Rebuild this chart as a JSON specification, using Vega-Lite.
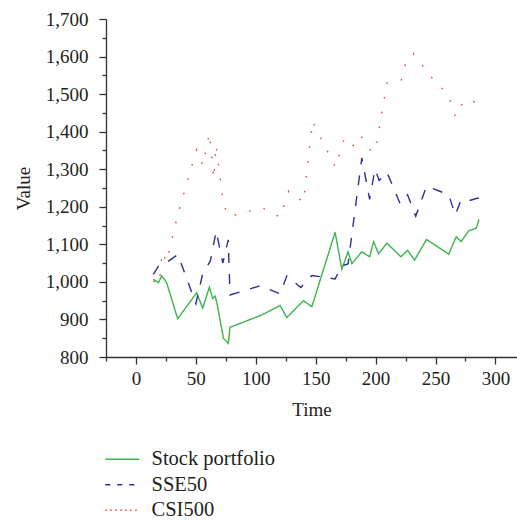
{
  "$schema": "https://vega.github.io/schema/vega-lite/v6.json",
  "autosize": "none",
  "width": 411,
  "height": 338,
  "padding": {"left": 106, "top": 19, "right": 0, "bottom": 164},
  "background": "white",
  "config": {
    "view": {"stroke": null},
    "font": "Liberation Serif",
    "axis": {"labelFont": "Liberation Serif", "titleFont": "Liberation Serif", "labelColor": "#231f20", "titleColor": "#231f20", "domainColor": "#333333", "tickColor": "#333333", "domainWidth": 1.3, "tickWidth": 1.3, "grid": false, "titleFontWeight": "normal", "labelFontSize": 19, "titleFontSize": 19}
  },
  "data": {"values": [
    {"t": 14.5, "v": 1007, "s": "Stock portfolio"},
    {"t": 18.8, "v": 998, "s": "Stock portfolio"},
    {"t": 21.5, "v": 1016, "s": "Stock portfolio"},
    {"t": 25.6, "v": 998, "s": "Stock portfolio"},
    {"t": 34.8, "v": 902, "s": "Stock portfolio"},
    {"t": 50.7, "v": 971, "s": "Stock portfolio"},
    {"t": 55.7, "v": 930, "s": "Stock portfolio"},
    {"t": 61.3, "v": 986, "s": "Stock portfolio"},
    {"t": 64, "v": 956, "s": "Stock portfolio"},
    {"t": 66, "v": 962, "s": "Stock portfolio"},
    {"t": 67.4, "v": 947, "s": "Stock portfolio"},
    {"t": 73, "v": 850, "s": "Stock portfolio"},
    {"t": 77.1, "v": 836, "s": "Stock portfolio"},
    {"t": 78.5, "v": 879, "s": "Stock portfolio"},
    {"t": 105, "v": 912, "s": "Stock portfolio"},
    {"t": 120.3, "v": 937, "s": "Stock portfolio"},
    {"t": 125.9, "v": 905, "s": "Stock portfolio"},
    {"t": 139.8, "v": 950, "s": "Stock portfolio"},
    {"t": 146.8, "v": 934, "s": "Stock portfolio"},
    {"t": 166.2, "v": 1132, "s": "Stock portfolio"},
    {"t": 171.8, "v": 1034, "s": "Stock portfolio"},
    {"t": 177, "v": 1080, "s": "Stock portfolio"},
    {"t": 180.2, "v": 1049, "s": "Stock portfolio"},
    {"t": 188.5, "v": 1080, "s": "Stock portfolio"},
    {"t": 195, "v": 1067, "s": "Stock portfolio"},
    {"t": 198.3, "v": 1107, "s": "Stock portfolio"},
    {"t": 202.5, "v": 1075, "s": "Stock portfolio"},
    {"t": 209.4, "v": 1103, "s": "Stock portfolio"},
    {"t": 221.1, "v": 1067, "s": "Stock portfolio"},
    {"t": 226.7, "v": 1084, "s": "Stock portfolio"},
    {"t": 232.5, "v": 1058, "s": "Stock portfolio"},
    {"t": 242.5, "v": 1113, "s": "Stock portfolio"},
    {"t": 261, "v": 1074, "s": "Stock portfolio"},
    {"t": 267.3, "v": 1120, "s": "Stock portfolio"},
    {"t": 271.3, "v": 1107, "s": "Stock portfolio"},
    {"t": 277.7, "v": 1136, "s": "Stock portfolio"},
    {"t": 284, "v": 1143, "s": "Stock portfolio"},
    {"t": 286.3, "v": 1166, "s": "Stock portfolio"},
    {"t": 14.5, "v": 1020, "s": "SSE50"},
    {"t": 20, "v": 1048, "s": "SSE50"},
    {"t": 26, "v": 1053, "s": "SSE50"},
    {"t": 35, "v": 1073, "s": "SSE50"},
    {"t": 50, "v": 942, "s": "SSE50"},
    {"t": 55.7, "v": 1022, "s": "SSE50"},
    {"t": 62, "v": 1055, "s": "SSE50"},
    {"t": 67, "v": 1135, "s": "SSE50"},
    {"t": 72.5, "v": 1050, "s": "SSE50"},
    {"t": 77, "v": 1112, "s": "SSE50"},
    {"t": 78.5, "v": 965, "s": "SSE50"},
    {"t": 104, "v": 990, "s": "SSE50"},
    {"t": 120.3, "v": 968, "s": "SSE50"},
    {"t": 125.9, "v": 1016, "s": "SSE50"},
    {"t": 137.5, "v": 985, "s": "SSE50"},
    {"t": 146.8, "v": 1017, "s": "SSE50"},
    {"t": 166.2, "v": 1008, "s": "SSE50"},
    {"t": 171.8, "v": 1043, "s": "SSE50"},
    {"t": 177, "v": 1048, "s": "SSE50"},
    {"t": 188.5, "v": 1330, "s": "SSE50"},
    {"t": 195, "v": 1220, "s": "SSE50"},
    {"t": 199.5, "v": 1300, "s": "SSE50"},
    {"t": 203, "v": 1270, "s": "SSE50"},
    {"t": 209.4, "v": 1292, "s": "SSE50"},
    {"t": 220.5, "v": 1208, "s": "SSE50"},
    {"t": 226.7, "v": 1232, "s": "SSE50"},
    {"t": 233.5, "v": 1175, "s": "SSE50"},
    {"t": 242.5, "v": 1255, "s": "SSE50"},
    {"t": 261, "v": 1232, "s": "SSE50"},
    {"t": 266.5, "v": 1178, "s": "SSE50"},
    {"t": 271.3, "v": 1218, "s": "SSE50"},
    {"t": 277.7, "v": 1216, "s": "SSE50"},
    {"t": 284, "v": 1222, "s": "SSE50"},
    {"t": 286.3, "v": 1223, "s": "SSE50"},
    {"t": 14.5, "v": 1002, "s": "CSI500"},
    {"t": 19.5, "v": 994, "s": "CSI500"},
    {"t": 21.8, "v": 1080, "s": "CSI500"},
    {"t": 25.6, "v": 1053, "s": "CSI500"},
    {"t": 34.8, "v": 1178, "s": "CSI500"},
    {"t": 48.5, "v": 1330, "s": "CSI500"},
    {"t": 50.7, "v": 1352, "s": "CSI500"},
    {"t": 55.7, "v": 1310, "s": "CSI500"},
    {"t": 61.3, "v": 1396, "s": "CSI500"},
    {"t": 65, "v": 1275, "s": "CSI500"},
    {"t": 66.8, "v": 1365, "s": "CSI500"},
    {"t": 73, "v": 1207, "s": "CSI500"},
    {"t": 77.3, "v": 1175, "s": "CSI500"},
    {"t": 87.5, "v": 1181, "s": "CSI500"},
    {"t": 105, "v": 1198, "s": "CSI500"},
    {"t": 120.3, "v": 1172, "s": "CSI500"},
    {"t": 127.5, "v": 1242, "s": "CSI500"},
    {"t": 139.8, "v": 1212, "s": "CSI500"},
    {"t": 147.2, "v": 1428, "s": "CSI500"},
    {"t": 166.5, "v": 1305, "s": "CSI500"},
    {"t": 174, "v": 1383, "s": "CSI500"},
    {"t": 178.5, "v": 1376, "s": "CSI500"},
    {"t": 182.5, "v": 1358, "s": "CSI500"},
    {"t": 188.5, "v": 1385, "s": "CSI500"},
    {"t": 197, "v": 1345, "s": "CSI500"},
    {"t": 200.3, "v": 1356, "s": "CSI500"},
    {"t": 209.4, "v": 1530, "s": "CSI500"},
    {"t": 221.5, "v": 1538, "s": "CSI500"},
    {"t": 225.5, "v": 1588, "s": "CSI500"},
    {"t": 231.5, "v": 1608, "s": "CSI500"},
    {"t": 245.6, "v": 1548, "s": "CSI500"},
    {"t": 254.5, "v": 1520, "s": "CSI500"},
    {"t": 262, "v": 1484, "s": "CSI500"},
    {"t": 266.5, "v": 1440, "s": "CSI500"},
    {"t": 274, "v": 1484, "s": "CSI500"},
    {"t": 286.3, "v": 1478, "s": "CSI500"}
  ]},
  "mark": {"type": "line", "strokeWidth": 1.4, "strokeCap": "butt", "clip": true},
  "encoding": {
    "x": {"field": "t", "type": "quantitative", "title": "Time",
      "scale": {"domain": [-25, 318], "nice": false, "zero": false},
      "axis": {"values": [-25, 0, 25, 50, 75, 100, 125, 150, 175, 200, 225, 250, 275, 300],
        "labelExpr": "datum.value % 50 === 0 ? format(datum.value, 'd') : ''", "labelOverlap": false,
        "tickSize": {"condition": {"test": "datum.value % 50 === 0", "value": 7}, "value": 4},
        "labelPadding": 5, "titlePadding": 12, "labelFlush": false}},
    "y": {"field": "v", "type": "quantitative", "title": "Value",
      "scale": {"domain": [800, 1700], "nice": false, "zero": false},
      "axis": {"values": [800, 850, 900, 950, 1000, 1050, 1100, 1150, 1200, 1250, 1300, 1350, 1400, 1450, 1500, 1550, 1600, 1650, 1700],
        "labelExpr": "datum.value % 100 === 0 ? format(datum.value, ',') : ''", "labelOverlap": false,
        "tickSize": {"condition": {"test": "datum.value % 100 === 0", "value": 7}, "value": 4},
        "labelPadding": 11, "titlePadding": 12, "labelFlush": false}},
    "color": {"field": "s", "type": "nominal",
      "scale": {"domain": ["Stock portfolio", "SSE50", "CSI500"], "range": ["#3cb54a", "#2e2e96", "#ee4433"]},
      "legend": {"title": null, "orient": "none", "legendX": 6, "legendY": 430, "direction": "vertical",
        "symbolType": "M-3.4,0H3.4", "symbolSize": 100, "symbolStrokeWidth": 1.5, "labelFontSize": 20.5, "labelFont": "Liberation Serif",
        "labelColor": "#231f20", "labelOffset": 19, "rowPadding": 4.5, "padding": 0,
        "encode": {"symbols": {"update": {"strokeDash": {"signal": "datum.value === 'SSE50' ? [5, 7] : datum.value === 'CSI500' ? [1.5, 3.5] : [1, 0]"}}}}}},
    "strokeDash": {"condition": [{"test": "datum.s === 'SSE50'", "value": [10, 11]}, {"test": "datum.s === 'CSI500'", "value": [1.6, 13.4]}], "value": [1, 0]},
    "order": {"field": "t", "type": "quantitative"}
  }
}
